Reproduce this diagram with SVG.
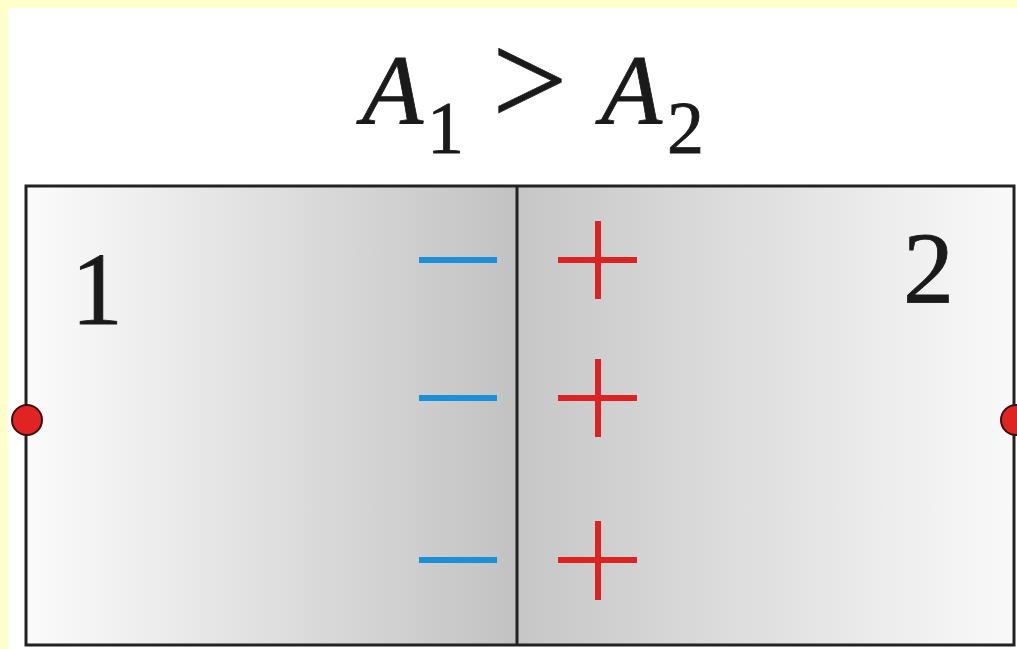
<svg xmlns="http://www.w3.org/2000/svg" width="1017" height="649" viewBox="0 0 1017 649">
  <defs>
    <linearGradient id="gL" x1="0" y1="0" x2="1" y2="0">
      <stop offset="0" stop-color="#fbfbfb"/>
      <stop offset="0.15" stop-color="#f3f3f3"/>
      <stop offset="1" stop-color="#c2c2c2"/>
    </linearGradient>
    <linearGradient id="gR" x1="0" y1="0" x2="1" y2="0">
      <stop offset="0" stop-color="#c6c6c6"/>
      <stop offset="0.85" stop-color="#f2f2f2"/>
      <stop offset="1" stop-color="#f9f9f9"/>
    </linearGradient>
  </defs>
  <style>
    text { font-family: 'Liberation Serif', 'DejaVu Serif', serif; fill: #1a1a1a; stroke: #1a1a1a; stroke-width: 0.8; }
    .it { font-style: italic; }
    .minus { stroke: #1b90d8; stroke-width: 6; }
    .plus { stroke: #dc2323; stroke-width: 6; }
    .edge { stroke: #222; stroke-width: 3; fill: none; }
    .dot { fill: #e02424; stroke: #3a1010; stroke-width: 2; }
  </style>
  <rect x="0" y="0" width="1017" height="649" fill="#ffffff"/>
  <rect x="0" y="0" width="1017" height="8" fill="#ffffcc"/>
  <rect x="0" y="0" width="8" height="649" fill="#ffffcc"/>

  <g id="title">
    <text class="it" x="362" y="124" font-size="100" font-family="Liberation Serif, serif">A</text>
    <text x="427" y="153" font-size="74" font-family="Liberation Serif, serif">1</text>
    <text x="492" y="125" font-size="134" font-family="Liberation Serif, serif">&gt;</text>
    <text class="it" x="601" y="124" font-size="100" font-family="Liberation Serif, serif">A</text>
    <text x="667" y="153" font-size="74" font-family="Liberation Serif, serif">2</text>
  </g>

  <g id="metal1">
    <rect x="26" y="186" width="491" height="459" fill="url(#gL)"/>
    <text x="71" y="324" font-size="104" font-family="Liberation Serif, serif">1</text>
  </g>
  <g id="metal2">
    <rect x="517" y="186" width="497" height="459" fill="url(#gR)"/>
    <text x="903" y="303" font-size="102" font-family="Liberation Serif, serif">2</text>
  </g>

  <g id="connectors">
    <rect class="edge" x="26" y="186" width="988" height="459"/>
    <line class="edge" x1="517" y1="186" x2="517" y2="645"/>
  </g>

  <g id="charges-minus">
    <line class="minus" x1="419" y1="260" x2="497" y2="260"/>
    <line class="minus" x1="419" y1="398" x2="497" y2="398"/>
    <line class="minus" x1="419" y1="560" x2="497" y2="560"/>
  </g>
  <g id="charges-plus">
    <line class="plus" x1="558" y1="260" x2="637" y2="260"/>
    <line class="plus" x1="598" y1="221" x2="598" y2="299"/>
    <line class="plus" x1="558" y1="398" x2="637" y2="398"/>
    <line class="plus" x1="598" y1="359" x2="598" y2="437"/>
    <line class="plus" x1="558" y1="560" x2="637" y2="560"/>
    <line class="plus" x1="598" y1="521" x2="598" y2="600"/>
  </g>

  <g id="terminal1">
    <circle class="dot" cx="27" cy="420" r="15"/>
  </g>
  <g id="terminal2">
    <circle class="dot" cx="1016" cy="420" r="15"/>
  </g>
</svg>
